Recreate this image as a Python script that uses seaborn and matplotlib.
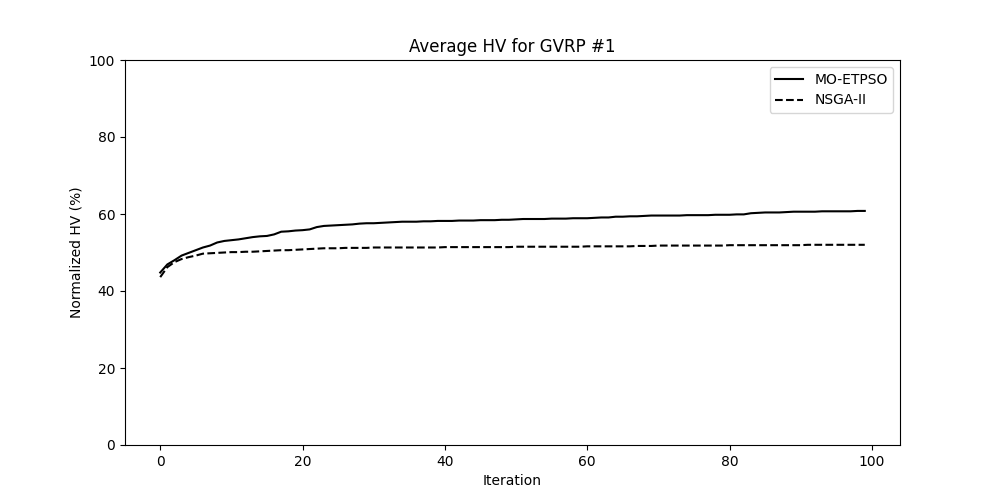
import matplotlib
matplotlib.use("Agg")
import matplotlib.pyplot as plt
import seaborn as sns
import numpy as np
import pandas as pd

# average normalized HV per iteration
mo_etpso = [
    44.8, 46.9, 48.0, 49.2, 49.9, 50.6, 51.3, 51.8, 52.6, 53.0,
    53.2, 53.4, 53.7, 54.0, 54.2, 54.3, 54.7, 55.4, 55.5, 55.7,
    55.8, 56.0, 56.6, 56.9, 57.0, 57.1, 57.2, 57.3, 57.5, 57.6,
    57.6, 57.7, 57.8, 57.9, 58.0, 58.0, 58.0, 58.1, 58.1, 58.2,
    58.2, 58.2, 58.3, 58.3, 58.3, 58.4, 58.4, 58.4, 58.5, 58.5,
    58.6, 58.7, 58.7, 58.7, 58.7, 58.8, 58.8, 58.8, 58.9, 58.9,
    58.9, 59.0, 59.1, 59.1, 59.3, 59.3, 59.4, 59.4, 59.5, 59.6,
    59.6, 59.6, 59.6, 59.6, 59.7, 59.7, 59.7, 59.7, 59.8, 59.8,
    59.8, 59.9, 59.9, 60.2, 60.3, 60.4, 60.4, 60.4, 60.5, 60.6,
    60.6, 60.6, 60.6, 60.7, 60.7, 60.7, 60.7, 60.7, 60.8, 60.8,
]
nsga2 = [
    43.6, 46.2, 47.5, 48.3, 48.8, 49.2, 49.7, 49.8, 49.9, 50.0,
    50.1, 50.1, 50.2, 50.2, 50.3, 50.4, 50.5, 50.6, 50.6, 50.7,
    50.8, 50.9, 51.0, 51.1, 51.1, 51.1, 51.2, 51.2, 51.2, 51.2,
    51.3, 51.3, 51.3, 51.3, 51.3, 51.3, 51.3, 51.3, 51.3, 51.3,
    51.4, 51.4, 51.4, 51.4, 51.4, 51.4, 51.4, 51.4, 51.4, 51.4,
    51.5, 51.5, 51.5, 51.5, 51.5, 51.5, 51.5, 51.5, 51.5, 51.5,
    51.6, 51.6, 51.6, 51.6, 51.6, 51.6, 51.6, 51.7, 51.7, 51.7,
    51.8, 51.8, 51.8, 51.8, 51.8, 51.8, 51.8, 51.8, 51.8, 51.8,
    51.9, 51.9, 51.9, 51.9, 51.9, 51.9, 51.9, 51.9, 51.9, 51.9,
    51.9, 52.0, 52.0, 52.0, 52.0, 52.0, 52.0, 52.0, 52.0, 52.0,
]
iterations = list(range(len(mo_etpso)))

df = pd.DataFrame({
    "Iteration": iterations * 2,
    "HV": mo_etpso + nsga2,
    "Algorithm": ["MO-ETPSO"] * len(mo_etpso) + ["NSGA-II"] * len(nsga2),
})

fig, ax = plt.subplots(figsize=(10, 5), dpi=100)
sns.lineplot(
    data=df, x="Iteration", y="HV", hue="Algorithm", style="Algorithm",
    palette=["black", "black"], dashes=[(None, None), (3.7, 1.6)],
    linewidth=1.5, ax=ax,
)
ax.lines[1].set_linestyle("--")

ax.set_ylim(0, 100)
ax.set_title("Average HV for GVRP #1")
ax.set_xlabel("Iteration")
ax.set_ylabel("Normalized HV (%)")

handles, labels = ax.get_legend_handles_labels()
ax.legend(handles=handles, labels=labels, loc="upper right")

plt.savefig("out.png", dpi=100)
plt.close()
